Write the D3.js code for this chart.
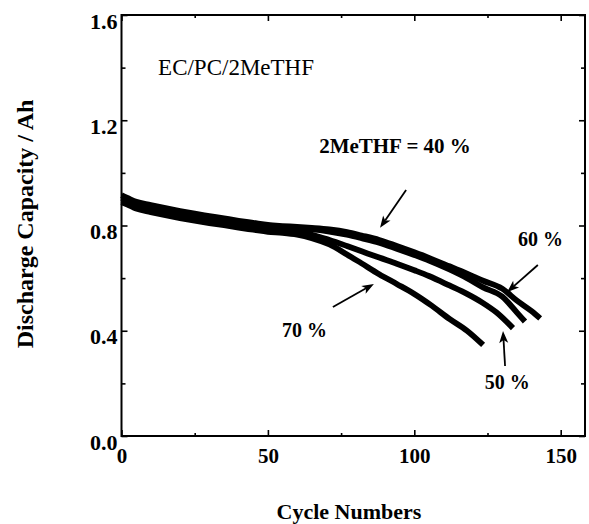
<!DOCTYPE html>
<html><head><meta charset="utf-8">
<script src="https://cdn.jsdelivr.net/npm/d3@7"></script>
<style>
html,body{margin:0;padding:0;background:#fff;}
svg{display:block;}
text{font-family:"Liberation Serif","Times New Roman",serif;fill:#000;}
</style></head>
<body>
<script>
// ---- data ----
const xTicks = [0, 50, 100, 150];
const yTicks = [0.0, 0.4, 0.8, 1.2, 1.6];
const yTickLabels = ["0.0", "0.4", "0.8", "1.2", "1.6"];

const cycles40 = [0,2,5,10,15,20,25,30,35,40,45,50,55,60,65,71,77,82,88,94,100,105,112,118,123.5,130,135,140,143];
const cap40    = [0.915,0.905,0.89,0.878,0.866,0.855,0.845,0.836,0.827,0.818,0.81,0.802,0.798,0.795,0.791,0.785,0.775,0.762,0.745,0.722,0.698,0.677,0.645,0.617,0.59,0.56,0.515,0.475,0.447];

const cycles60 = [0,2,5,10,15,20,25,30,35,40,45,50,55,60,65,71,77,82,88,94,100,105,112,118,123.5,130,135,137.8];
const cap60    = [0.905,0.896,0.882,0.869,0.857,0.847,0.837,0.828,0.82,0.811,0.803,0.793,0.79,0.788,0.785,0.777,0.765,0.752,0.735,0.712,0.688,0.667,0.633,0.6,0.565,0.53,0.47,0.435];

const cycles50 = [0,2,5,10,15,20,25,30,35,40,45,50,55,60,65,71,77,82,88,94,100,105,112,118,123.5,128,133.7];
const cap50    = [0.895,0.888,0.873,0.86,0.848,0.837,0.827,0.818,0.81,0.801,0.793,0.783,0.779,0.775,0.765,0.745,0.722,0.702,0.678,0.655,0.63,0.608,0.572,0.54,0.505,0.47,0.41];

const cycles70 = [0,2,5,10,15,20,25,30,35,40,45,50,55,60,65,71,77,82,88,94,100,106,112,118,123.5];
const cap70    = [0.888,0.88,0.864,0.851,0.839,0.828,0.818,0.809,0.801,0.792,0.784,0.776,0.772,0.765,0.752,0.728,0.69,0.656,0.615,0.578,0.54,0.495,0.445,0.4,0.346];

const seriesNames = ["40 %", "60 %", "50 %", "70 %"];
const seriesCycles = [cycles40, cycles60, cycles50, cycles70];
const seriesCaps = [cap40, cap60, cap50, cap70];

// annotations (data coordinates)
const labelTexts = ["2MeTHF = 40 %", "60 %", "70 %", "50 %"];
const labelSizes = [21, 20, 20, 20];
const labelX = [67.5, 135.4, 54.8, 124.1];
const labelY = [1.076, 0.722, 0.376, 0.179];
const arrowFromX = [97.2, 142.2, 72.2, 131.0];
const arrowFromY = [0.935, 0.650, 0.490, 0.266];
const arrowToX = [88.3, 131.7, 86.2, 130.3];
const arrowToY = [0.791, 0.547, 0.578, 0.399];

// ---- drawing ----
const W = 589, H = 524;
const mLeft = 121.5, mRight = 585, mTop = 15, mBottom = 436;
const svg = d3.select("body").append("svg").attr("width", W).attr("height", H);

const x = d3.scaleLinear().domain([0, 158.3]).range([mLeft, mRight]);
const y = d3.scaleLinear().domain([0, 1.6]).range([mBottom, mTop]);

const xMinor = d3.range(25, 158, 50);
const yMinor = d3.range(0.2, 1.6, 0.4);

function drawAxis(axisGen, transform) {
  const g = svg.append("g").attr("transform", transform).call(axisGen);
  g.select(".domain").remove();
  g.selectAll(".tick line").attr("stroke", "#000").attr("stroke-width", 1.6);
  return g;
}

const gxb = drawAxis(d3.axisBottom(x).tickValues(xTicks).tickSize(-6).tickPadding(12).tickFormat(d3.format("d")), `translate(0,${mBottom})`);
gxb.selectAll("text").style("font-size", "21px").style("font-weight", "bold").attr("dy", "0.71em");
drawAxis(d3.axisBottom(x).tickValues(xMinor).tickSize(-3).tickFormat(""), `translate(0,${mBottom})`);
drawAxis(d3.axisTop(x).tickValues(xTicks).tickSize(-6).tickFormat(""), `translate(0,${mTop})`);
drawAxis(d3.axisTop(x).tickValues(xMinor).tickSize(-3).tickFormat(""), `translate(0,${mTop})`);
const gyl = drawAxis(d3.axisLeft(y).tickValues(yTicks).tickSize(-6).tickPadding(4).tickFormat((d, i) => yTickLabels[i]), `translate(${mLeft},0)`);
gyl.selectAll("text").style("font-size", "22px").style("font-weight", "bold").attr("dy", "13px");
drawAxis(d3.axisLeft(y).tickValues(yMinor).tickSize(-4).tickFormat(""), `translate(${mLeft},0)`);
drawAxis(d3.axisRight(y).tickValues(yTicks).tickSize(-6).tickFormat(""), `translate(${mRight},0)`);
drawAxis(d3.axisRight(y).tickValues(yMinor).tickSize(-4).tickFormat(""), `translate(${mRight},0)`);

svg.append("rect").attr("x", mLeft).attr("y", mTop).attr("width", mRight - mLeft).attr("height", mBottom - mTop)
  .attr("fill", "none").attr("stroke", "#000").attr("stroke-width", 2);

const line = d3.line().x(d => x(d[0])).y(d => y(d[1])).curve(d3.curveMonotoneX);
seriesCycles.forEach((cs, i) => {
  const pts = cs.map((c, j) => [c, seriesCaps[i][j]]);
  svg.append("path").datum(pts).attr("d", line)
    .attr("fill", "none").attr("stroke", "#000").attr("stroke-width", 5.8)
    .attr("stroke-linejoin", "round").attr("stroke-linecap", "butt");
});

arrowFromX.forEach((fx, i) => {
  const x1 = x(fx), y1 = y(arrowFromY[i]), x2 = x(arrowToX[i]), y2 = y(arrowToY[i]);
  const ang = Math.atan2(y2 - y1, x2 - x1);
  const L = 12, Wd = 4.5;
  const bx = x2 - L * Math.cos(ang), by = y2 - L * Math.sin(ang);
  svg.append("line").attr("x1", x1).attr("y1", y1).attr("x2", bx + 3 * Math.cos(ang)).attr("y2", by + 3 * Math.sin(ang))
    .attr("stroke", "#000").attr("stroke-width", 1.8);
  const p1 = [bx + Wd * Math.sin(ang), by - Wd * Math.cos(ang)];
  const p2 = [bx - Wd * Math.sin(ang), by + Wd * Math.cos(ang)];
  const pm = [bx + 3 * Math.cos(ang), by + 3 * Math.sin(ang)];
  svg.append("path").attr("d", `M${x2},${y2}L${p1[0]},${p1[1]}L${pm[0]},${pm[1]}L${p2[0]},${p2[1]}Z`).attr("fill", "#000");
});

labelTexts.forEach((t, i) => {
  svg.append("text").attr("x", x(labelX[i])).attr("y", y(labelY[i]))
    .style("font-size", labelSizes[i] + "px").style("font-weight", "bold").text(t);
});
svg.append("text").attr("x", x(12.5)).attr("y", y(1.372)).style("font-size", "23px").text("EC/PC/2MeTHF");

svg.append("text").attr("x", 349).attr("y", 519).attr("text-anchor", "middle")
  .style("font-size", "22px").style("font-weight", "bold").text("Cycle Numbers");
svg.append("text").attr("transform", "translate(33,224) rotate(-90)").attr("text-anchor", "middle")
  .style("font-size", "24px").style("font-weight", "bold").text("Discharge Capacity / Ah");
</script>
</body></html>
